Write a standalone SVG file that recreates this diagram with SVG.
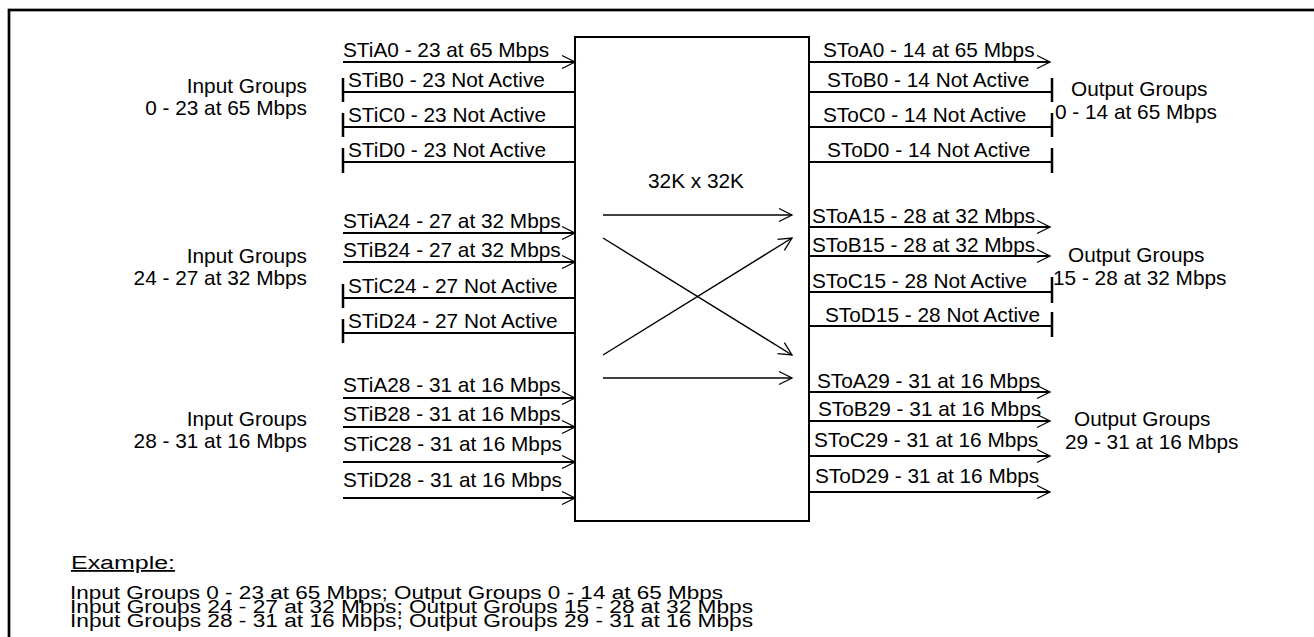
<svg xmlns="http://www.w3.org/2000/svg" width="1314" height="637" viewBox="0 0 1314 637">
<defs>
<marker id="arr" markerUnits="userSpaceOnUse" markerWidth="16" markerHeight="14" refX="14" refY="7" orient="auto" overflow="visible">
<path d="M1,0.5 L14,7 L1,13.5" fill="none" stroke="#000" stroke-width="1.3"/>
</marker>
</defs>
<style>
text{font-family:"Liberation Sans",Arial,sans-serif;font-size:20.8px;fill:#000}
.ex{font-size:18px}
.ln{stroke:#000;stroke-width:2;fill:none}
.thin{stroke:#000;stroke-width:1.4;fill:none}
.tk{stroke:#000;stroke-width:2.5}
.r{text-anchor:end}
.m{text-anchor:middle}
</style>
<rect x="9" y="10" width="1400" height="700" fill="#fff" stroke="#000" stroke-width="2.7"/>

<g id="switch">
<rect x="575" y="37" width="234" height="484" fill="#fff" stroke="#000" stroke-width="2"/>
<text x="696" y="188" class="m">32K x 32K</text>
</g>

<g id="input-groups">
<text x="307" y="93" class="r">Input Groups</text>
<text x="307" y="115" class="r">0 - 23 at 65 Mbps</text>
<text x="307" y="263" class="r">Input Groups</text>
<text x="307" y="285" class="r">24 - 27 at 32 Mbps</text>
<text x="307" y="426" class="r">Input Groups</text>
<text x="307" y="448" class="r">28 - 31 at 16 Mbps</text>
</g>

<g id="output-groups">
<text x="1071" y="96">Output Groups</text>
<text x="1055" y="119">0 - 14 at 65 Mbps</text>
<text x="1068" y="262">Output Groups</text>
<text x="1053" y="285">15 - 28 at 32 Mbps</text>
<text x="1074" y="426">Output Groups</text>
<text x="1065" y="449">29 - 31 at 16 Mbps</text>
</g>

<g id="input-labels">
<text x="343" y="57">STiA0 - 23 at 65 Mbps</text>
<text x="348" y="87">STiB0 - 23 Not Active</text>
<text x="348" y="122">STiC0 - 23 Not Active</text>
<text x="348" y="157">STiD0 - 23 Not Active</text>
<text x="343" y="228">STiA24 - 27 at 32 Mbps</text>
<text x="343" y="257">STiB24 - 27 at 32 Mbps</text>
<text x="348" y="293">STiC24 - 27 Not Active</text>
<text x="348" y="328">STiD24 - 27 Not Active</text>
<text x="343" y="392">STiA28 - 31 at 16 Mbps</text>
<text x="343" y="421">STiB28 - 31 at 16 Mbps</text>
<text x="343" y="451">STiC28 - 31 at 16 Mbps</text>
<text x="343" y="487">STiD28 - 31 at 16 Mbps</text>
</g>

<g id="output-labels">
<text x="823" y="57">SToA0 - 14 at 65 Mbps</text>
<text x="827" y="87">SToB0 - 14 Not Active</text>
<text x="823" y="122">SToC0 - 14 Not Active</text>
<text x="827" y="157">SToD0 - 14 Not Active</text>
<text x="812" y="223">SToA15 - 28 at 32 Mbps</text>
<text x="812" y="252">SToB15 - 28 at 32 Mbps</text>
<text x="812" y="288">SToC15 - 28 Not Active</text>
<text x="825" y="322">SToD15 - 28 Not Active</text>
<text x="817" y="388">SToA29 - 31 at 16 Mbps</text>
<text x="818" y="416">SToB29 - 31 at 16 Mbps</text>
<text x="814" y="447">SToC29 - 31 at 16 Mbps</text>
<text x="815" y="483">SToD29 - 31 at 16 Mbps</text>
</g>

<g id="connectors">
<line class="ln" x1="343" y1="62" x2="575" y2="62" marker-end="url(#arr)"/>
<line class="ln" x1="343" y1="92" x2="575" y2="92"/>
<line class="tk" x1="343" y1="78" x2="343" y2="102"/>
<line class="ln" x1="343" y1="127" x2="575" y2="127"/>
<line class="tk" x1="343" y1="113" x2="343" y2="137"/>
<line class="ln" x1="343" y1="162" x2="575" y2="162"/>
<line class="tk" x1="343" y1="148" x2="343" y2="173"/>

<line class="ln" x1="343" y1="233" x2="575" y2="233" marker-end="url(#arr)"/>
<line class="ln" x1="343" y1="262" x2="575" y2="262" marker-end="url(#arr)"/>
<line class="ln" x1="343" y1="298" x2="575" y2="298"/>
<line class="tk" x1="343" y1="284" x2="343" y2="308"/>
<line class="ln" x1="343" y1="333" x2="575" y2="333"/>
<line class="tk" x1="343" y1="319" x2="343" y2="343"/>

<line class="ln" x1="343" y1="398" x2="575" y2="398" marker-end="url(#arr)"/>
<line class="ln" x1="343" y1="427" x2="575" y2="427" marker-end="url(#arr)"/>
<line class="ln" x1="343" y1="462" x2="575" y2="462" marker-end="url(#arr)"/>
<line class="ln" x1="343" y1="498" x2="575" y2="498" marker-end="url(#arr)"/>

<line class="thin" x1="603" y1="215" x2="792" y2="215" marker-end="url(#arr)"/>
<line class="thin" x1="603" y1="238" x2="792" y2="355" marker-end="url(#arr)"/>
<line class="thin" x1="603" y1="355" x2="792" y2="238" marker-end="url(#arr)"/>
<line class="thin" x1="603" y1="378" x2="792" y2="378" marker-end="url(#arr)"/>

<line class="ln" x1="809" y1="62" x2="1050" y2="62" marker-end="url(#arr)"/>
<line class="ln" x1="809" y1="92" x2="1052" y2="92"/>
<line class="tk" x1="1052" y1="78" x2="1052" y2="102"/>
<line class="ln" x1="809" y1="127" x2="1052" y2="127"/>
<line class="tk" x1="1052" y1="113" x2="1052" y2="137"/>
<line class="ln" x1="809" y1="162" x2="1052" y2="162"/>
<line class="tk" x1="1052" y1="148" x2="1052" y2="173"/>

<line class="ln" x1="809" y1="227" x2="1050" y2="227" marker-end="url(#arr)"/>
<line class="ln" x1="809" y1="256" x2="1050" y2="256" marker-end="url(#arr)"/>
<line class="ln" x1="809" y1="292" x2="1052" y2="292"/>
<line class="tk" x1="1052" y1="277" x2="1052" y2="303"/>
<line class="ln" x1="809" y1="326" x2="1052" y2="326"/>
<line class="tk" x1="1052" y1="312" x2="1052" y2="337"/>

<line class="ln" x1="809" y1="392" x2="1050" y2="392" marker-end="url(#arr)"/>
<line class="ln" x1="809" y1="421" x2="1050" y2="421" marker-end="url(#arr)"/>
<line class="ln" x1="809" y1="456" x2="1050" y2="456" marker-end="url(#arr)"/>
<line class="ln" x1="809" y1="492" x2="1050" y2="492" marker-end="url(#arr)"/>
</g>

<g id="example">
<text x="71" y="569" class="ex" text-decoration="underline" textLength="104" lengthAdjust="spacingAndGlyphs">Example:</text>
<text x="70" y="599" class="ex" textLength="653" lengthAdjust="spacingAndGlyphs">Input Groups 0 - 23 at 65 Mbps; Output Groups 0 - 14 at 65 Mbps</text>
<text x="70" y="613" class="ex" textLength="683" lengthAdjust="spacingAndGlyphs">Input Groups 24 - 27 at 32 Mbps; Output Groups 15 - 28 at 32 Mbps</text>
<text x="70" y="627" class="ex" textLength="683" lengthAdjust="spacingAndGlyphs">Input Groups 28 - 31 at 16 Mbps; Output Groups 29 - 31 at 16 Mbps</text>
</g>
</svg>
